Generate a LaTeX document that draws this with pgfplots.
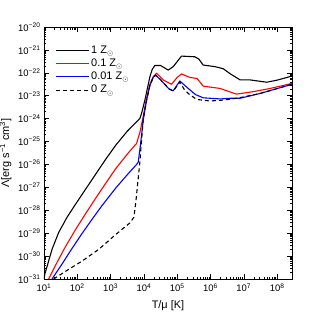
\documentclass[border=0pt]{standalone}
\usepackage{fontspec}
\setmainfont{Liberation Sans}
\usepackage{pgfplots}
\pgfplotsset{compat=1.18}
\usepackage{pgfplotstable}

\newcommand{\Zsun}{Z\raisebox{-2.2bp}{\fontsize{7.5}{8}\selectfont$\odot$}}

\pgfplotstableread{
lx ly
1.00 -31.00
1.02 -30.81
1.24 -29.71
1.44 -28.97
1.69 -28.31
1.94 -27.75
2.24 -27.10
2.54 -26.45
2.84 -25.80
3.16 -25.15
3.50 -24.55
3.88 -23.99
3.93 -23.77
4.03 -23.19
4.18 -22.17
4.25 -21.85
4.33 -21.68
4.50 -21.68
4.73 -21.88
4.88 -21.73
5.13 -21.27
5.53 -21.30
5.65 -21.40
5.78 -21.66
6.13 -21.73
6.38 -21.82
6.60 -22.05
6.89 -22.31
7.19 -22.31
7.69 -22.41
8.00 -22.32
8.45 -22.14
}\solar

\pgfplotstableread{
lx ly
1.14 -31.00
1.39 -30.28
1.64 -29.60
1.94 -28.86
2.24 -28.17
2.54 -27.50
2.84 -26.85
3.16 -26.17
3.53 -25.50
3.78 -25.08
3.88 -24.60
3.98 -23.90
4.08 -23.10
4.18 -22.50
4.28 -22.17
4.38 -22.02
4.58 -22.31
4.83 -22.50
5.00 -22.20
5.13 -22.05
5.38 -22.20
5.60 -22.25
5.78 -22.58
6.28 -22.68
6.78 -22.93
7.29 -22.82
7.80 -22.68
8.45 -22.46
}\tenth

\pgfplotstableread{
lx ly
1.24 -31.00
1.54 -30.35
1.84 -29.67
2.14 -29.02
2.44 -28.40
2.74 -27.80
3.16 -27.02
3.53 -26.40
3.78 -26.00
3.83 -25.90
3.90 -25.10
3.98 -24.06
4.08 -23.20
4.18 -22.55
4.28 -22.20
4.35 -22.10
4.50 -22.30
4.75 -22.70
4.88 -22.78
5.08 -22.36
5.33 -22.68
5.55 -22.95
5.78 -23.09
6.29 -23.14
6.59 -23.11
6.89 -23.11
7.49 -22.90
8.45 -22.50
}\hundredth

\pgfplotstableread{
lx ly
1.29 -31.00
1.64 -30.67
2.14 -30.22
2.64 -29.71
3.16 -29.05
3.58 -28.55
3.70 -28.30
3.76 -27.60
3.88 -25.88
3.98 -24.00
4.08 -23.20
4.18 -22.55
4.28 -22.20
4.35 -22.10
4.50 -22.30
4.75 -22.70
4.88 -22.80
5.08 -22.40
5.20 -22.70
5.33 -22.90
5.58 -23.16
5.98 -23.23
6.38 -23.19
6.78 -23.11
7.00 -23.05
7.49 -22.90
8.45 -22.50
}\zero

\begin{document}
\begin{tikzpicture}
\begin{axis}[
  at={(0,0)}, anchor=south west,
  scale only axis,
  width=248bp, height=252bp,
  xmode=log, ymode=log,
  xmin=10, xmax=2.8e8,
  ymin=1e-31, ymax=1e-20,
  xtick={1e1,1e2,1e3,1e4,1e5,1e6,1e7,1e8},
  xticklabels={10\textsuperscript{1},10\textsuperscript{2},10\textsuperscript{3},10\textsuperscript{4},10\textsuperscript{5},10\textsuperscript{6},10\textsuperscript{7},10\textsuperscript{8}},
  ytick={1e-31,1e-30,1e-29,1e-28,1e-27,1e-26,1e-25,1e-24,1e-23,1e-22,1e-21,1e-20},
  yticklabels={10\textsuperscript{−31},10\textsuperscript{−30},10\textsuperscript{−29},10\textsuperscript{−28},10\textsuperscript{−27},10\textsuperscript{−26},10\textsuperscript{−25},10\textsuperscript{−24},10\textsuperscript{−23},10\textsuperscript{−22},10\textsuperscript{−21},10\textsuperscript{−20}},
  tick align=inside,
  major tick length=5bp, minor tick length=2.5bp,
  tick style={black, line width=0.6pt},
  axis line style={line width=0.9pt},
  tick label style={font=\fontsize{9.5}{11}\selectfont},
  xticklabel style={yshift=-1bp},
  xlabel={T/μ [K]},
  ylabel={Λ[erg s\textsuperscript{−1} cm\textsuperscript{3}]},
  label style={font=\fontsize{11}{13}\selectfont},
  xlabel style={yshift=-2bp},
  legend cell align=left,
  legend style={draw=none, fill=none, inner sep=0pt, at={(axis description cs:0.046,0.935)}, anchor=north west,
    font=\fontsize{11}{13}\selectfont, row sep=0pt,
    nodes={inner sep=1.5bp, text height=8bp, text depth=2.3bp}},
  legend image code/.code={\draw[#1] (0bp,0bp) -- (33bp,0bp);},
]
\addplot[black, line width=1.1pt] table[x expr=10^\thisrow{lx}, y expr=10^\thisrow{ly}] {\solar};
\addlegendentry{1 \Zsun}
\addplot[red, line width=1.1pt] table[x expr=10^\thisrow{lx}, y expr=10^\thisrow{ly}] {\tenth};
\addlegendentry{0.1 \Zsun}
\addplot[blue, line width=1.1pt] table[x expr=10^\thisrow{lx}, y expr=10^\thisrow{ly}] {\hundredth};
\addlegendentry{0.01 \Zsun}
\addplot[black, line width=1.1pt, dash pattern=on 4bp off 3bp] table[x expr=10^\thisrow{lx}, y expr=10^\thisrow{ly}] {\zero};
\addlegendentry{0 \Zsun}
\end{axis}
\pgfresetboundingbox
\path[use as bounding box] (-44bp,-40bp) rectangle (275bp,279bp);
\end{tikzpicture}
\end{document}
